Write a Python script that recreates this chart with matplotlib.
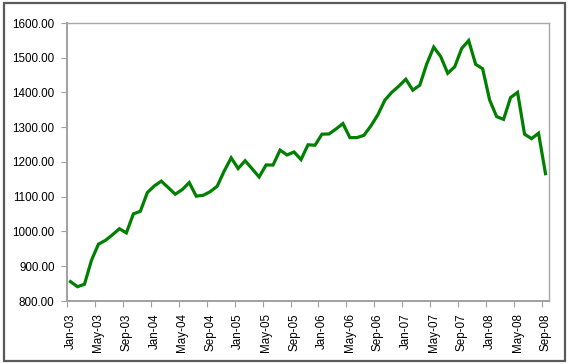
import matplotlib
matplotlib.use("Agg")
import matplotlib.pyplot as plt
from matplotlib.patches import Rectangle
from matplotlib.ticker import FixedLocator, FuncFormatter

months = ["Jan", "Feb", "Mar", "Apr", "May", "Jun", "Jul", "Aug", "Sep", "Oct", "Nov", "Dec"]
categories = [f"{m}-{y:02d}" for y in range(3, 9) for m in months][:69]

values = [
    855.70, 841.15, 848.18, 916.92, 963.59, 974.50, 990.31, 1008.01, 995.97, 1050.71, 1058.20, 1111.92,
    1131.13, 1144.94, 1126.21, 1107.30, 1120.68, 1140.84, 1101.72, 1104.24, 1114.58, 1130.20, 1173.82, 1211.92,
    1181.27, 1203.60, 1180.59, 1156.85, 1191.50, 1191.33, 1234.18, 1220.33, 1228.81, 1207.01, 1249.48, 1248.29,
    1280.08, 1280.66, 1294.83, 1310.61, 1270.09, 1270.20, 1276.66, 1303.82, 1335.85, 1377.94, 1400.63, 1418.30,
    1438.24, 1406.82, 1420.86, 1482.37, 1530.62, 1503.35, 1455.27, 1473.99, 1526.75, 1549.38, 1481.14, 1468.36,
    1378.55, 1330.63, 1322.70, 1385.59, 1400.38, 1280.00, 1267.38, 1282.83, 1166.36,
]
y_ticks = [800, 900, 1000, 1100, 1200, 1300, 1400, 1500, 1600]

plt.rcParams['font.family'] = ['Liberation Sans', 'DejaVu Sans']

W, H = 570, 364
fig = plt.figure(figsize=(W / 100, H / 100), dpi=100)
fig.patch.set_facecolor("white")

# outer frame
fig.patches.append(Rectangle((4 / W, 3 / H), (565 - 4) / W, (361 - 3) / H,
                             transform=fig.transFigure, fill=False,
                             edgecolor="#5a5a5a", linewidth=1.6))

left, right, top, bottom = 67, 549, 23, 301
ax = fig.add_axes([left / W, 1 - bottom / H, (right - left) / W, (bottom - top) / H])

x = list(range(len(values)))
ax.plot(x, values, color="#008000", linewidth=2.3, solid_joinstyle="miter")

ax.set_xlim(-0.5, len(values) - 0.5)
ax.set_ylim(800, 1600)

ax.set_yticks(y_ticks)
ax.yaxis.set_major_formatter(FuncFormatter(lambda v, p: f"{v:.2f}"))

label_idx = list(range(0, len(values), 4))
ax.set_xticks(label_idx)
ax.set_xticklabels([categories[i] for i in label_idx], rotation=90)
ax.xaxis.set_minor_locator(FixedLocator([i - 0.5 for i in label_idx]))
ax.tick_params(axis="x", which="major", length=0, pad=9, labelsize=8.4)
ax.tick_params(axis="x", which="minor", length=4, width=0.8, color="#a0a0a0", direction="out")
ax.tick_params(axis="y", length=4, width=0.8, color="#a0a0a0", pad=5, labelsize=8.4)

for s in ["left", "bottom"]:
    ax.spines[s].set_color("#a0a0a0")
    ax.spines[s].set_linewidth(1.4)
for s in ["top", "right"]:
    ax.spines[s].set_color("#a8a8a8")
    ax.spines[s].set_linewidth(1.0)

fig.savefig("out.png", dpi=100, facecolor="white")
